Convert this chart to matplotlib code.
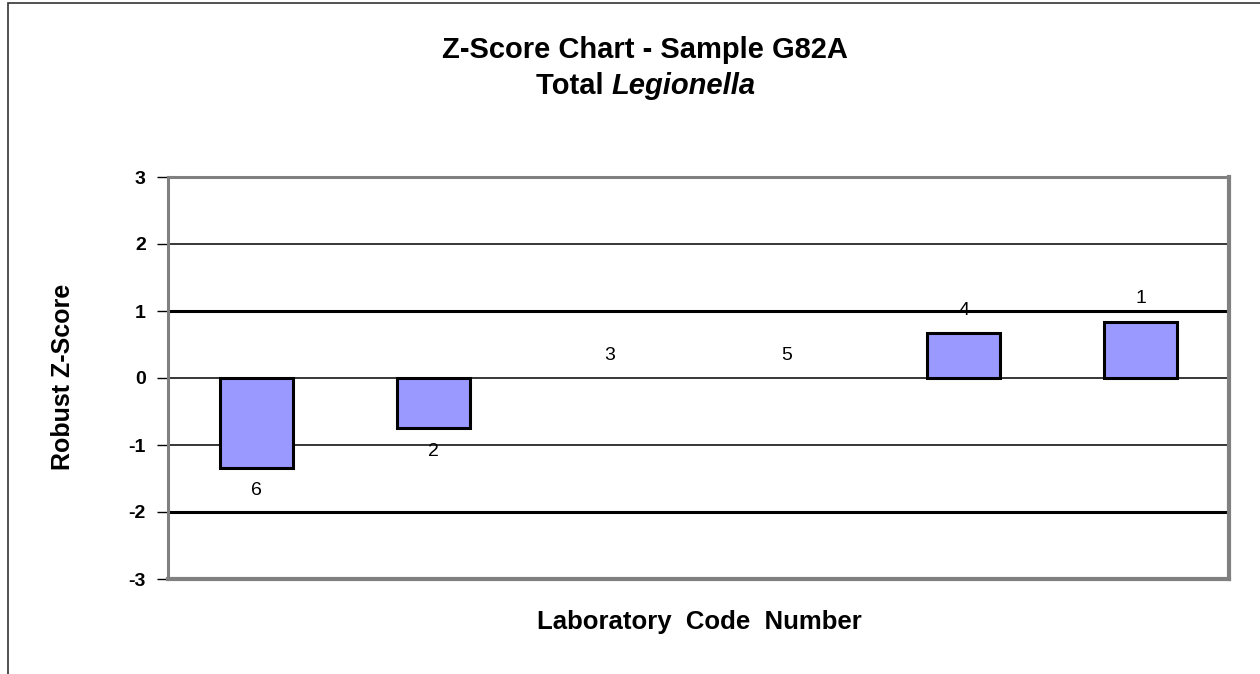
import numpy as np
import matplotlib
matplotlib.use('Agg')
import matplotlib.pyplot as plt
from matplotlib.patches import Rectangle

# lab codes in chart order and their robust z-scores
labs = ['6', '2', '3', '5', '4', '1']
zscores = [-1.34, -0.75, 0.0, 0.0, 0.67, 0.84]
yticks = [-3, -2, -1, 0, 1, 2, 3]

plt.rcParams['font.family'] = ['Liberation Sans', 'DejaVu Sans']

W, H = 1260, 674
fig = plt.figure(figsize=(W/100, H/100), dpi=100)
ax = fig.add_axes([168/W, 1-579/H, (1229-168)/W, (579-177)/H])

x = np.arange(len(labs))
lws = [2.2 if z != 0 else 0 for z in zscores]
ax.bar(x, zscores, width=0.41, color='#9999ff', edgecolor='black', linewidth=lws, zorder=3)

# data labels: above positive / zero bars, below negative bars
for xi, z, lab in zip(x, zscores, labs):
    off = -0.34 if z < 0 else 0.34
    ax.text(xi, z + off, lab, ha='center', va='center', fontsize=14, zorder=4)

ax.set_xlim(-0.5, len(labs) - 0.5)
ax.set_ylim(-3, 3)
ax.set_yticks(yticks)
ax.set_yticklabels([str(t) for t in yticks], fontsize=14, fontweight='bold')
ax.set_xticks([])
ax.tick_params(axis='y', direction='out', length=8, width=1, color='black', pad=8)

# gridlines, heavier at +1 and -2
for t in [-2, -1, 0, 1, 2]:
    lw = 2.2 if t in (1, -2) else 1.1
    ax.axhline(t, color='black', linewidth=lw, zorder=1)

for s in ax.spines.values():
    s.set_color('#808080')
ax.spines['left'].set_linewidth(2.2)
ax.spines['top'].set_linewidth(2.2)
ax.spines['right'].set_linewidth(3)
ax.spines['bottom'].set_linewidth(3)

fig.text(63/W, 1-377/H, 'Robust Z-Score', rotation=90, ha='center', va='center',
         fontsize=18, fontweight='bold')

fig.text(645/W, 1-50/H, 'Z-Score Chart - Sample G82A', ha='center', va='center',
         fontsize=21, fontweight='bold')

# second title line: "Total" upright + "Legionella" italic, centred together
renderer = fig.canvas.get_renderer()
t1 = fig.text(0, 1-86/H, 'Total ', ha='left', va='center', fontsize=21, fontweight='bold')
t2 = fig.text(0, 1-86/H, 'Legionella', ha='left', va='center', fontsize=21,
              fontweight='bold', style='italic')
w1 = t1.get_window_extent(renderer).width
w2 = t2.get_window_extent(renderer).width
x0 = 646 - (w1 + w2) / 2
t1.set_x(x0 / W)
t2.set_x((x0 + w1) / W)

fig.text(699/W, 1-622/H, 'Laboratory  Code  Number', ha='center', va='center',
         fontsize=18.5, fontweight='bold')

# outer chart border (left and top edges visible)
fig.patches.append(Rectangle((8/W, -0.1), 1.2, 1 - 3/H + 0.1, transform=fig.transFigure,
                             fill=False, edgecolor='#333333', linewidth=1.2))

fig.savefig('out.png', dpi=100)
